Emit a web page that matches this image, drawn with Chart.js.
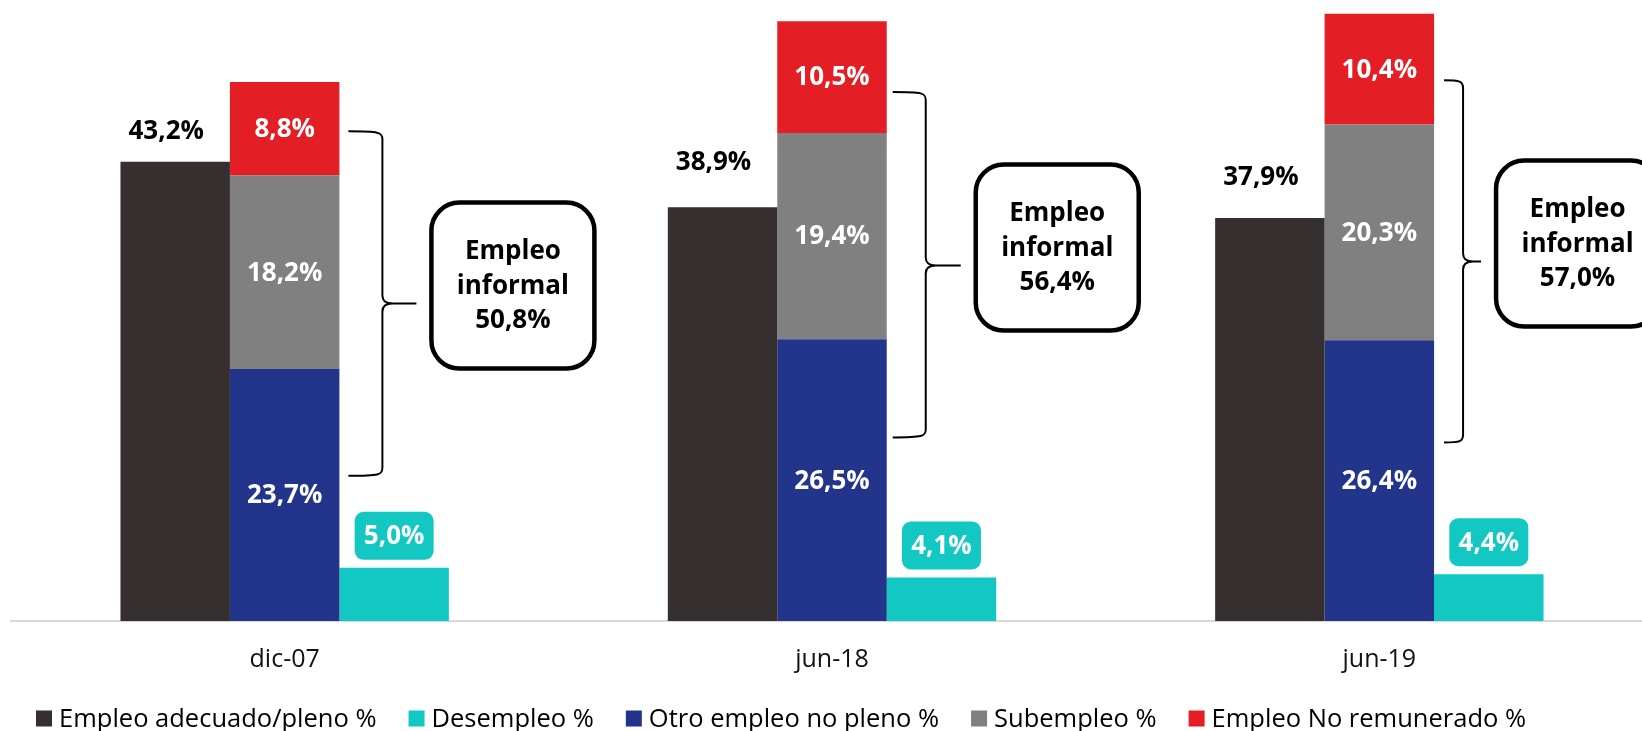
<!DOCTYPE html>
<html lang="es">
<head>
<meta charset="UTF-8">
<title>Empleo adecuado, informal y desempleo</title>
<script src="https://cdn.jsdelivr.net/npm/chart.js"></script>
<style>
  html, body { margin: 0; padding: 0; background: #fff; overflow: hidden; }
  #chart-container { position: absolute; left: 0; top: 0; width: 1654px; height: 731px; }
</style>
</head>
<body>
<div id="chart-container"><canvas id="empleoChart"></canvas></div>
<script>
// Composición del mercado laboral (% de la PEA)
const periods = ['dic-07', 'jun-18', 'jun-19'];
const adecuado = [43.2, 38.9, 37.9];
const desempleo = [5.0, 4.1, 4.4];
const otroNoPleno = [23.7, 26.5, 26.4];
const subempleo = [18.2, 19.4, 20.3];
const noRemunerado = [8.8, 10.5, 10.4];
const informalTotal = [50.8, 56.4, 57.0];

const fmt = v => v.toFixed(1).replace('.', ',') + '%';
const LABEL_FONT = 'bold 26px "Open Sans"';

// Value labels: black above the first bar, white inside the stack, tag over desempleo
const barLabels = {
  id: 'barLabels',
  afterDatasetsDraw(chart, args, opts) {
    const ctx = chart.ctx;
    ctx.save();
    ctx.textAlign = 'center';
    ctx.textBaseline = 'middle';
    ctx.font = LABEL_FONT;
    chart.data.datasets.forEach((ds, di) => {
      const meta = chart.getDatasetMeta(di);
      meta.data.forEach((bar, i) => {
        const text = fmt(ds.data[i]);
        if (ds.stack === 'informal') {
          ctx.fillStyle = '#fff';
          ctx.fillText(text, bar.x, (bar.y + bar.base) / 2 + 1);
        } else if (ds.stack === 'adecuado') {
          ctx.fillStyle = '#000';
          ctx.fillText(text, bar.x - 9, bar.y - opts.topOffsets[i]);
        } else {
          const w = 79, h = 48, bottom = bar.y - 8;
          ctx.fillStyle = ds.backgroundColor;
          ctx.beginPath();
          ctx.roundRect(bar.x - w / 2, bottom - h, w, h, 9);
          ctx.fill();
          ctx.fillStyle = '#fff';
          ctx.fillText(text, bar.x, bottom - h / 2 + 1);
        }
      });
    });
    ctx.restore();
  }
};

// Curly brace next to each stack plus the "Empleo informal" callout
const informalBrace = {
  id: 'informalBrace',
  afterDatasetsDraw(chart, args, opts) {
    const ctx = chart.ctx;
    const y = chart.scales.y;
    const topIdx = chart.data.datasets.findIndex(d => d.label === 'Empleo No remunerado %');
    const bars = chart.getDatasetMeta(topIdx).data;
    ctx.save();
    opts.braces.forEach((b, i) => {
      const right = bars[i].x + bars[i].width / 2;
      const x0 = right + b.start, xs = right + b.spine, xt = right + b.tip;
      const yT = y.getPixelForValue(b.top), yM = y.getPixelForValue(b.mid), yB = y.getPixelForValue(b.bottom);

      ctx.strokeStyle = '#000';
      ctx.lineWidth = 2;
      ctx.beginPath();
      ctx.moveTo(x0, yT);
      ctx.bezierCurveTo(xs - 3, yT, xs, yT + 1, xs, yT + 8);
      ctx.lineTo(xs, yM - 8);
      ctx.bezierCurveTo(xs, yM - 2, xs + 4, yM, xs + 10, yM);
      ctx.lineTo(xt, yM);
      ctx.moveTo(xs + 10, yM);
      ctx.bezierCurveTo(xs + 4, yM, xs, yM + 2, xs, yM + 8);
      ctx.lineTo(xs, yB - 8);
      ctx.bezierCurveTo(xs, yB - 1, xs - 3, yB, x0, yB);
      ctx.stroke();

      const w = 163, h = 166;
      const bx = xt + 15, cy = yM - 18;
      ctx.fillStyle = '#fff';
      ctx.lineWidth = 4.5;
      ctx.beginPath();
      ctx.roundRect(bx, cy - h / 2, w, h, 28);
      ctx.fill();
      ctx.stroke();

      ctx.fillStyle = '#000';
      ctx.font = LABEL_FONT;
      ctx.textAlign = 'center';
      ctx.textBaseline = 'middle';
      const lines = ['Empleo', 'informal', fmt(informalTotal[i])];
      lines.forEach((t, k) => ctx.fillText(t, bx + w / 2, cy + (k - 1) * 34.5 + 1));
    });
    ctx.restore();
  }
};

// Legend along the bottom, in dataset order
const bottomLegend = {
  id: 'bottomLegend',
  afterDraw(chart, args, opts) {
    const ctx = chart.ctx;
    const yc = chart.height - opts.bottom;
    let x = opts.left;
    ctx.save();
    ctx.font = opts.font;
    ctx.textBaseline = 'middle';
    ctx.textAlign = 'left';
    chart.data.datasets.forEach(ds => {
      ctx.fillStyle = ds.backgroundColor;
      ctx.fillRect(x, yc - 8, opts.box, opts.box);
      ctx.fillStyle = '#000';
      ctx.fillText(ds.label, x + opts.box + 7, yc + 1);
      x += opts.box + 7 + ctx.measureText(ds.label).width + opts.gap;
    });
    ctx.restore();
  }
};

const ctx = document.getElementById('empleoChart').getContext('2d');
new Chart(ctx, {
  type: 'bar',
  data: {
    labels: periods,
    datasets: [
      { label: 'Empleo adecuado/pleno %', data: adecuado, backgroundColor: '#35302F', stack: 'adecuado', order: 0 },
      { label: 'Desempleo %', data: desempleo, backgroundColor: '#13C8C2', stack: 'desempleo', order: 2 },
      { label: 'Otro empleo no pleno %', data: otroNoPleno, backgroundColor: '#22358B', stack: 'informal', order: 1 },
      { label: 'Subempleo %', data: subempleo, backgroundColor: '#808080', stack: 'informal', order: 1 },
      { label: 'Empleo No remunerado %', data: noRemunerado, backgroundColor: '#E31F25', stack: 'informal', order: 1 }
    ]
  },
  options: {
    responsive: true,
    maintainAspectRatio: false,
    animation: false,
    datasets: { bar: { categoryPercentage: 0.6, barPercentage: 1.0, borderWidth: 0 } },
    layout: { padding: { left: 11, right: 1, top: 0, bottom: 40 } },
    scales: {
      x: {
        stacked: true,
        grid: { display: false },
        border: { color: '#d9d9d9', width: 2 },
        ticks: { color: '#111', padding: 16, font: { family: '"Open Sans"', size: 25 } }
      },
      y: { stacked: true, display: false, min: 0, max: 58.4 }
    },
    plugins: {
      legend: { display: false },
      tooltip: { enabled: false },
      bottomLegend: { left: 36, bottom: 12.5, box: 16, gap: 32, font: '25.5px "Open Sans"' },
      barLabels: { topOffsets: [30, 45, 40] },
      informalBrace: {
        braces: [
          { top: 46.05, mid: 29.85, bottom: 13.65, start: 9, spine: 43, tip: 77 },
          { top: 49.75, mid: 33.43, bottom: 17.26, start: 6, spine: 39, tip: 74 },
          { top: 50.85, mid: 33.8, bottom: 16.79, start: 10, spine: 29, tip: 47 }
        ]
      }
    }
  },
  plugins: [barLabels, informalBrace, bottomLegend]
});
</script>
</body>
</html>
